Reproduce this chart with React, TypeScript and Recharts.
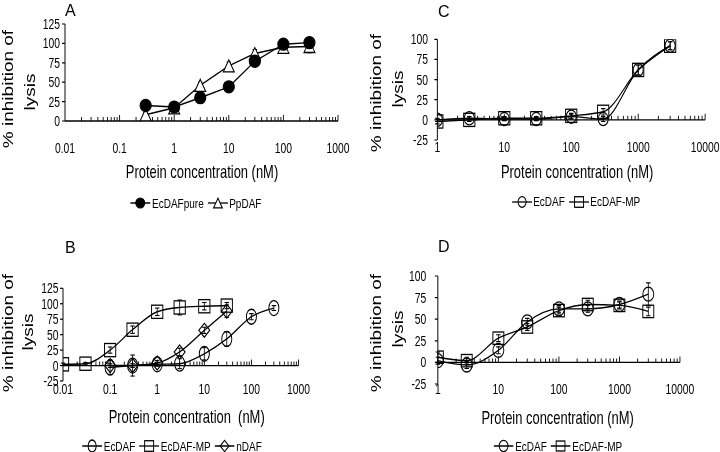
import React from 'react';
import { ComposedChart, Line, XAxis, YAxis, ReferenceLine, ErrorBar, Legend, Label } from 'recharts';

// ---------------- data ----------------
// Panel A
const aConc = [0.3, 1, 3, 10, 30, 100, 300];
const aEcDAFpure = [20, 18, 30, 44, 77, 99, 101];
const aEcDAFpureErr = [4, 4, 4, 4, 5, 4, 5];
const aPpDAF = [8, 17, 46, 71, 87, 95, 96];
const aPpDAFErr = [3, 4, 4, 5, 5, 7, 8];
const aXTicks = [0.01, 0.1, 1, 10, 100, 1000];
const aXLabels = ['0.01', '0.1', '1', '10', '100', '1000'];
const aYTicks = [0, 25, 50, 75, 100, 125];

// Panel B
const bEcDAFConc = [0.1, 0.3, 1, 3, 10, 30, 100, 300];
const bEcDAF = [-3, 0, 2, 3, 19, 43, 79, 93];
const bEcDAFErr = [12, 17, 3, 8, 10, 12, 5, 4];
const bEcDAFMPConc = [0.01, 0.03, 0.1, 0.3, 1, 3, 10, 30];
const bEcDAFMP = [2, 3, 25, 58, 87, 94, 96, 97];
const bEcDAFMPErr = [2, 2, 5, 6, 6, 12, 6, 5];
const bnDAFConc = [0.1, 0.3, 1, 3, 10, 30];
const bnDAF = [0, 0, 4, 22, 57, 88];
const bnDAFErr = [3, 3, 4, 6, 5, 10];
const bXTicks = [0.01, 0.1, 1, 10, 100, 1000];
const bXLabels = ['0.01', '0.1', '1', '10', '100', '1000'];
const bYTicks = [-25, 0, 25, 50, 75, 100, 125];

// Panel C
const cConc = [1, 3, 10, 30, 100, 300, 1000, 3000];
const cEcDAF = [0, 2, 1, 1, 4, 1, 62, 92];
const cEcDAFErr = [2, 2, 2, 2, 3, 3, 8, 5];
const cEcDAFMP = [-2, 0, 2, 2, 5, 10, 62, 92];
const cEcDAFMPErr = [3, 2, 2, 2, 3, 4, 6, 5];
const cXTicks = [1, 10, 100, 1000, 10000];
const cXLabels = ['1', '10', '100', '1000', '10000'];
const cYTicks = [-25, 0, 25, 50, 75, 100];

// Panel D
const dConc = [1, 3, 10, 30, 100, 300, 1000, 3000];
const dEcDAF = [2, -3, 14, 47, 62, 62, 67, 79];
const dEcDAFErr = [4, 4, 4, 4, 4, 4, 4, 13];
const dEcDAFMP = [6, 2, 28, 41, 60, 67, 66, 59];
const dEcDAFMPErr = [6, 4, 4, 4, 4, 5, 4, 5];
const dXTicks = [1, 10, 100, 1000, 10000];
const dXLabels = ['1', '10', '100', '1000', '10000'];
const dYTicks = [-25, 0, 25, 50, 75, 100];

// ---------------- layout / style ----------------
const SX = 0.74; // horizontal squeeze of the original figure
const u = (v: number) => v / SX;
const FONT = '"Liberation Sans", Arial, Helvetica, sans-serif';
const PANEL_W = 360;
const PANEL_H = 226;

type Shape = 'filledCircle' | 'circle' | 'square' | 'triangle' | 'diamond';

type Series = {
  name: string;
  conc: number[];
  values: number[];
  errors: number[];
  shape: Shape;
  rx: number;
  ry: number;
  curve: 'linear' | 'monotone';
};

type Panel = {
  id: string;
  ox: number;
  oy: number;
  plot: { l: number; r: number; t: number; b: number };
  xDomain: [number, number];
  xTicks: number[];
  xLabels: string[];
  yDomain: [number, number];
  yTicks: number[];
  xLabelDy: number;
  xTitle: { cx: number; base: number; text: string };
  legend: { cx: number; cy: number };
  yTitle1: [number, number];
  yTitle2: [number, number];
  yTickMargin: number;
  series: Series[];
};

const panels: Panel[] = [
  {
    id: 'A', ox: 0, oy: 0,
    plot: { l: 65, r: 338, t: 24, b: 121 },
    xDomain: [0.01, 1000], xTicks: aXTicks, xLabels: aXLabels,
    yDomain: [0, 125], yTicks: aYTicks,
    xLabelDy: 27,
    xTitle: { cx: 202, base: 178.5, text: 'Protein concentration (nM)' },
    legend: { cx: 198, cy: 203 },
    yTitle1: [8, 89], yTitle2: [30, 92],
    yTickMargin: 2.8,
    series: [
      { name: 'EcDAFpure', conc: aConc, values: aEcDAFpure, errors: aEcDAFpureErr, shape: 'filledCircle', rx: 7.6, ry: 6, curve: 'linear' },
      { name: 'PpDAF', conc: aConc, values: aPpDAF, errors: aPpDAFErr, shape: 'triangle', rx: 7.4, ry: 6, curve: 'linear' },
    ],
  },
  {
    id: 'C', ox: 360, oy: 0,
    plot: { l: 77.7, r: 345.5, t: 39.3, b: 140 },
    xDomain: [1, 10000], xTicks: cXTicks, xLabels: cXLabels,
    yDomain: [-25, 100], yTicks: cYTicks,
    xLabelDy: 7.7,
    xTitle: { cx: 217.5, base: 178.5, text: 'Protein concentration (nM)' },
    legend: { cx: 218, cy: 201.7 },
    yTitle1: [17, 93], yTitle2: [38, 89],
    yTickMargin: 8.7,
    series: [
      { name: 'EcDAF', conc: cConc, values: cEcDAF, errors: cEcDAFErr, shape: 'circle', rx: 6.8, ry: 6.6, curve: 'monotone' },
      { name: 'EcDAF-MP', conc: cConc, values: cEcDAFMP, errors: cEcDAFMPErr, shape: 'square', rx: 7.6, ry: 6.6, curve: 'monotone' },
    ],
  },
  {
    id: 'B', ox: 0, oy: 226,
    plot: { l: 63, r: 298.5, t: 62.3, b: 155 },
    xDomain: [0.01, 1000], xTicks: bXTicks, xLabels: bXLabels,
    yDomain: [-25, 125], yTicks: bYTicks,
    xLabelDy: 8.3,
    xTitle: { cx: 186.7, base: 196.7, text: 'Protein concentration  (nM)' },
    legend: { cx: 174, cy: 220 },
    yTitle1: [9, 107], yTitle2: [28, 106],
    yTickMargin: 2,
    series: [
      { name: 'EcDAF', conc: bEcDAFConc, values: bEcDAF, errors: bEcDAFErr, shape: 'circle', rx: 6.8, ry: 7.5, curve: 'monotone' },
      { name: 'EcDAF-MP', conc: bEcDAFMPConc, values: bEcDAFMP, errors: bEcDAFMPErr, shape: 'square', rx: 7.6, ry: 6.6, curve: 'monotone' },
      { name: 'nDAF', conc: bnDAFConc, values: bnDAF, errors: bnDAFErr, shape: 'diamond', rx: 7.4, ry: 7, curve: 'monotone' },
    ],
  },
  {
    id: 'D', ox: 360, oy: 226,
    plot: { l: 78.2, r: 320.3, t: 50, b: 158 },
    xDomain: [1, 10000], xTicks: dXTicks, xLabels: dXLabels,
    yDomain: [-25, 100], yTicks: dYTicks,
    xLabelDy: 5.3,
    xTitle: { cx: 198, base: 197.7, text: 'Protein concentration (nM)' },
    legend: { cx: 200, cy: 220 },
    yTitle1: [17, 107], yTitle2: [38, 103],
    yTickMargin: 11.5,
    series: [
      { name: 'EcDAF', conc: dConc, values: dEcDAF, errors: dEcDAFErr, shape: 'circle', rx: 7.4, ry: 7, curve: 'monotone' },
      { name: 'EcDAF-MP', conc: dConc, values: dEcDAFMP, errors: dEcDAFMPErr, shape: 'square', rx: 7.4, ry: 6.2, curve: 'monotone' },
    ],
  },
];

const letters = [
  { text: 'A', x: 65, y: 16 },
  { text: 'C', x: 438, y: 17 },
  { text: 'B', x: 65, y: 253 },
  { text: 'D', x: 438, y: 252 },
];

// ---------------- helpers ----------------
function Marker({ cx, cy, shape, rx, ry }: { cx: number; cy: number; shape: Shape; rx: number; ry: number }) {
  if (cx == null || cy == null || Number.isNaN(cx) || Number.isNaN(cy)) return null;
  const sw = 1.3;
  switch (shape) {
    case 'filledCircle':
      return <ellipse cx={cx} cy={cy} rx={rx} ry={ry} fill="#000" stroke="#000" strokeWidth={sw} />;
    case 'circle':
      return <ellipse cx={cx} cy={cy} rx={rx} ry={ry} fill="none" stroke="#000" strokeWidth={sw} />;
    case 'square':
      return <rect x={cx - rx} y={cy - ry} width={2 * rx} height={2 * ry} fill="none" stroke="#000" strokeWidth={sw} />;
    case 'triangle':
      return <polygon points={`${cx},${cy - ry} ${cx + rx},${cy + ry} ${cx - rx},${cy + ry}`} fill="#fff" stroke="#000" strokeWidth={sw} />;
    case 'diamond':
      return <polygon points={`${cx},${cy - ry} ${cx + rx},${cy} ${cx},${cy + ry} ${cx - rx},${cy}`} fill="none" stroke="#000" strokeWidth={sw} />;
    default:
      return null;
  }
}

function logTickMarks(min: number, max: number) {
  const out: { v: number; major: boolean }[] = [];
  const e0 = Math.round(Math.log10(min));
  const e1 = Math.round(Math.log10(max));
  for (let e = e0; e < e1; e++) {
    for (let k = 1; k <= 9; k++) {
      const v = parseFloat((k * Math.pow(10, e)).toPrecision(6));
      out.push({ v, major: k === 1 });
    }
  }
  out.push({ v: max, major: true });
  return out.filter((t) => t.v > min);
}

function RotatedText({ cx, cy, text }: { cx: number; cy: number; text: string }) {
  const W = 200;
  const H = 24;
  return (
    <div
      style={{
        position: 'absolute',
        left: cx - W / 2,
        top: cy - H / 2,
        width: W,
        height: H,
        lineHeight: `${H}px`,
        textAlign: 'center',
        fontFamily: FONT,
        fontSize: 19,
        color: '#000',
        whiteSpace: 'nowrap',
        transform: 'rotate(-90deg)',
        transformOrigin: '50% 50%',
        pointerEvents: 'none',
      }}
    >
      {text}
    </div>
  );
}

function PanelChart({ p }: { p: Panel }) {
  const width = u(PANEL_W);
  const xAxisH = 20;
  const plotHpx = p.plot.b - p.plot.t;
  const unitsPerPx = (p.yDomain[1] - p.yDomain[0]) / plotHpx;
  const marks = logTickMarks(p.xDomain[0], p.xDomain[1]);

  const renderXTick = (props: any) => {
    const { x, y, payload } = props;
    const idx = p.xTicks.indexOf(payload.value);
    const label = idx >= 0 ? p.xLabels[idx] : String(payload.value);
    return (
      <text x={x} y={y + p.xLabelDy} textAnchor="middle" dominantBaseline="central" fontSize={14} fontFamily={FONT} fill="#000">
        {label}
      </text>
    );
  };

  const renderXTitle = () => (
    <text x={u(p.xTitle.cx)} y={p.xTitle.base} textAnchor="middle" fontSize={17.5} fontFamily={FONT} fill="#000" style={{ whiteSpace: 'pre' }}>
      {p.xTitle.text}
    </text>
  );

  const renderLegend = () => (
    <div style={{ display: 'flex', justifyContent: 'center', alignItems: 'center', height: 18, fontFamily: FONT, fontSize: 13.5, color: '#000', whiteSpace: 'nowrap' }}>
      {p.series.map((s) => (
        <div key={s.name} style={{ display: 'flex', alignItems: 'center', marginRight: u(4) }}>
          <svg width={u(20)} height={18} style={{ display: 'block' }}>
            <line x1={0} y1={9} x2={u(20)} y2={9} stroke="#000" strokeWidth={1.3} />
            <Marker cx={u(10)} cy={9} shape={s.shape} rx={s.rx * 0.8} ry={s.ry * 0.8} />
          </svg>
          <span style={{ marginLeft: u(1.5) }}>{s.name}</span>
        </div>
      ))}
    </div>
  );

  const drawOrder = [...p.series].reverse();

  return (
    <ComposedChart
      width={width}
      height={PANEL_H}
      margin={{ top: p.plot.t, right: width - u(p.plot.r), bottom: PANEL_H - p.plot.b - xAxisH, left: 0 }}
    >
      <XAxis
        type="number"
        dataKey="x"
        scale="log"
        domain={p.xDomain}
        allowDataOverflow
        ticks={p.xTicks}
        interval={0}
        tick={renderXTick}
        tickLine={false}
        axisLine={false}
        tickSize={0}
        tickMargin={0}
        height={xAxisH}
      >
        <Label content={renderXTitle} />
      </XAxis>
      <YAxis
        type="number"
        domain={p.yDomain}
        allowDataOverflow
        ticks={p.yTicks}
        interval={0}
        width={u(p.plot.l)}
        tick={{ fontSize: 14, fill: '#000', fontFamily: FONT }}
        tickLine={{ stroke: '#000', strokeWidth: 1.2 }}
        axisLine={{ stroke: '#000', strokeWidth: 1.3 }}
        tickSize={4}
        tickMargin={p.yTickMargin}
      />
      <ReferenceLine y={0} stroke="#000" strokeWidth={1.3} />
      {marks.map((m) => (
        <ReferenceLine
          key={`tick-${m.v}`}
          segment={[
            { x: m.v, y: 0 },
            { x: m.v, y: (m.major ? 6 : 4) * unitsPerPx },
          ]}
          stroke="#000"
          strokeWidth={1.2}
        />
      ))}
      {drawOrder.map((s) => (
        <Line
          key={s.name}
          name={s.name}
          data={s.conc.map((x, i) => ({ x, y: s.values[i], err: s.errors[i] }))}
          dataKey="y"
          type={s.curve}
          stroke="#000"
          strokeWidth={1.4}
          isAnimationActive={false}
          activeDot={false}
          dot={(props: any) => (
            <Marker key={`${s.name}-${props.index}`} cx={props.cx} cy={props.cy} shape={s.shape} rx={s.rx} ry={s.ry} />
          )}
        >
          <ErrorBar dataKey="err" width={3} stroke="#000" strokeWidth={1.1} direction="y" isAnimationActive={false} />
        </Line>
      ))}
      <Legend
        verticalAlign="middle"
        align="center"
        content={renderLegend}
        wrapperStyle={{ left: u(p.legend.cx) - width / 2, top: p.legend.cy - 9, width: width, height: 18 }}
      />
    </ComposedChart>
  );
}

export default function App() {
  return (
    <div style={{ position: 'absolute', left: 0, top: 0, width: 720, height: 452, overflow: 'hidden', background: '#fff' }}>
      <div
        style={{
          position: 'absolute',
          left: 0,
          top: 0,
          width: u(720),
          height: 452,
          transform: `scaleX(${SX})`,
          transformOrigin: '0 0',
        }}
      >
        {panels.map((p) => (
          <div key={p.id} style={{ position: 'absolute', left: u(p.ox), top: p.oy, width: u(PANEL_W), height: PANEL_H }}>
            <PanelChart p={p} />
            <RotatedText cx={u(p.yTitle1[0])} cy={p.yTitle1[1]} text="% inhibition of" />
            <RotatedText cx={u(p.yTitle2[0])} cy={p.yTitle2[1]} text="lysis" />
          </div>
        ))}
      </div>
      <svg width={720} height={452} style={{ position: 'absolute', left: 0, top: 0, pointerEvents: 'none' }}>
        {letters.map((l) => (
          <text key={l.text} x={l.x} y={l.y} fontSize={16} fontFamily={FONT} fill="#000">
            {l.text}
          </text>
        ))}
      </svg>
    </div>
  );
}
